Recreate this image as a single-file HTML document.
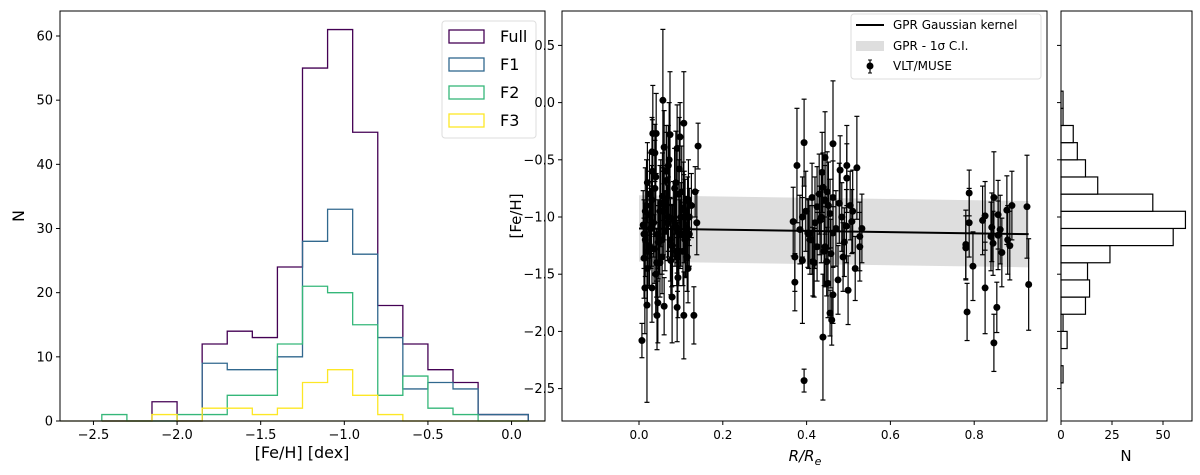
<!DOCTYPE html>
<html><head><meta charset="utf-8"><style>
body{margin:0;background:#fff}
svg{display:block;font-family:"DejaVu Sans","Liberation Sans",sans-serif}
</style></head><body>
<svg id="fig" width="1200" height="475" viewBox="0 0 1200 475" xmlns="http://www.w3.org/2000/svg">
<g id="left"></g>
<g id="mid"></g>
<g id="right"></g>
</svg>
<script>
// ---- Left histogram data ----
const binEdges = [-2.45,-2.3,-2.15,-2.0,-1.85,-1.7,-1.55,-1.4,-1.25,-1.1,-0.95,-0.8,-0.65,-0.5,-0.35,-0.2,-0.05,0.1];
const fullCounts = [0,0,3,0,12,14,13,24,55,61,45,18,12,8,6,1,1];
const f1Counts = [0,0,0,0,9,8,8,10,28,33,26,13,5,6,5,1,1];
const f2Counts = [1,0,0,1,1,4,4,12,21,20,15,4,7,2,1,0,0];
const f3Counts = [0,0,1,0,2,2,1,2,6,8,4,1,0,0,0,0,0];
const leftXTicks = [-2.5,-2.0,-1.5,-1.0,-0.5,0.0];
const leftXTickLabels = ["\u22122.5","\u22122.0","\u22121.5","\u22121.0","\u22120.5","0.0"];
const leftYTicks = [0,10,20,30,40,50,60];
const seriesNames = ["Full","F1","F2","F3"];
// ---- Scatter data ----
const radius = [0.057,0.033,0.041,0.074,0.107,0.098,0.141,0.031,0.038,0.091,0.06,0.134,0.01,0.012,0.014,0.031,0.019,0.007,0.043,0.045,0.06,0.079,0.091,0.107,0.131,0.138,0.093,0.117,
0.02,0.03,0.05,0.07,0.09,0.11,0.125,0.025,0.045,0.065,0.085,0.105,0.12,0.015,0.035,0.055,0.075,0.095,0.115,0.02,0.04,0.06,0.08,0.1,0.12,0.03,0.05,0.07,0.09,0.11,0.025,0.055,0.085,0.115,0.04,0.07,0.1,0.015,0.065,0.095,
0.018,0.028,0.038,0.048,0.058,0.068,0.078,0.088,0.098,0.108,0.118,0.022,0.032,0.042,0.052,0.062,0.072,0.082,0.092,0.102,0.112,0.026,0.046,0.066,0.086,0.106,0.036,0.056,0.076,0.096,0.116,0.012,
0.394,0.377,0.463,0.52,0.444,0.437,0.48,0.496,0.496,0.368,0.39,0.413,0.425,0.444,0.463,0.504,0.508,0.532,0.527,0.372,0.372,0.39,0.415,0.403,0.425,0.444,0.448,0.451,0.463,0.456,0.46,0.439,0.394,0.475,0.499,0.516,0.487,0.463,0.484,0.432,0.384,0.413,0.456,0.449,0.439,0.527,
0.398,0.408,0.42,0.43,0.442,0.452,0.47,0.49,0.51,0.405,0.435,0.458,0.478,0.495,0.418,
0.788,0.847,0.89,0.926,0.93,0.783,0.854,0.847,0.826,0.797,0.78,0.788,0.82,0.826,0.842,0.84,0.845,0.857,0.862,0.866,0.878,0.88,0.885,0.78,0.857];
const feh = [0.02,-0.27,-0.27,-0.28,-0.18,-0.3,-0.38,-0.43,-0.44,-0.4,-0.39,-0.78,-1.07,-1.36,-1.62,-1.62,-1.77,-2.08,-1.86,-1.75,-1.78,-1.7,-1.79,-1.86,-1.86,-1.05,-1.53,-1.45,
-0.7,-0.85,-0.95,-1.0,-1.1,-1.2,-0.9,-1.25,-1.15,-0.6,-0.75,-1.3,-1.0,-0.95,-1.05,-1.35,-1.2,-0.8,-1.1,-1.45,-0.65,-0.9,-1.25,-1.0,-1.15,-1.1,-1.4,-0.55,-1.3,-0.95,-0.8,-1.2,-1.05,-1.35,-1.5,-1.0,-1.15,-1.2,-0.85,-1.3,
-0.9,-1.1,-0.75,-1.2,-0.95,-1.05,-1.25,-0.7,-1.15,-1.0,-0.85,-1.3,-0.6,-1.4,-0.88,-1.12,-0.5,-1.02,-1.35,-0.78,-1.18,-0.98,-1.22,-0.68,-1.08,-0.92,-1.28,-0.82,-1.38,-0.58,-1.0,-1.15,
-0.35,-0.55,-0.36,-0.57,-0.48,-0.61,-0.59,-0.55,-0.66,-1.04,-1.0,-0.83,-0.91,-0.85,-0.83,-0.9,-1.04,-1.1,-1.17,-1.35,-1.57,-1.38,-1.39,-1.14,-1.26,-1.26,-1.39,-1.58,-1.68,-1.84,-1.9,-2.05,-2.43,-1.55,-1.64,-1.45,-1.35,-1.14,-1.0,-1.03,-1.11,-1.2,-0.97,-0.78,-0.74,-1.26,
-0.95,-1.2,-1.05,-0.8,-1.3,-0.9,-1.1,-1.22,-0.95,-1.15,-1.0,-1.32,-0.88,-1.08,-1.4,
-0.79,-0.83,-0.9,-0.91,-1.59,-1.83,-1.79,-2.1,-1.62,-1.43,-1.27,-1.05,-1.03,-0.99,-1.09,-1.17,-1.23,-0.98,-1.11,-1.31,-0.94,-1.2,-1.25,-1.24,-1.16];
const fehErr = [0.62,0.42,0.35,0.55,0.45,0.3,0.2,0.3,0.25,0.38,0.32,0.22,0.3,0.35,0.4,0.3,0.85,0.15,0.3,0.35,0.25,0.4,0.3,0.38,0.25,0.28,0.35,0.3,
0.35,0.3,0.4,0.35,0.3,0.32,0.28,0.35,0.3,0.4,0.35,0.3,0.25,0.38,0.3,0.32,0.36,0.3,0.28,0.32,0.4,0.3,0.35,0.3,0.28,0.33,0.3,0.35,0.3,0.28,0.36,0.3,0.32,0.3,0.35,0.3,0.28,0.32,0.3,0.3,
0.4,0.35,0.42,0.3,0.38,0.33,0.36,0.45,0.3,0.4,0.35,0.32,0.45,0.3,0.38,0.35,0.5,0.33,0.3,0.4,0.35,0.38,0.32,0.42,0.35,0.4,0.3,0.38,0.3,0.45,0.35,0.3,
0.38,0.5,0.55,0.45,0.4,0.35,0.3,0.35,0.3,0.3,0.35,0.3,0.35,0.3,0.32,0.3,0.28,0.3,0.3,0.3,0.25,0.55,0.3,0.3,0.3,0.35,0.3,0.3,0.25,0.2,0.22,0.55,0.1,0.3,0.3,0.28,0.3,0.3,0.3,0.3,0.3,0.3,0.3,0.35,0.3,0.3,
0.35,0.3,0.4,0.35,0.3,0.38,0.33,0.3,0.36,0.3,0.4,0.3,0.35,0.32,0.3,
0.2,0.4,0.3,0.45,0.4,0.25,0.22,0.25,0.4,0.3,0.28,0.3,0.3,0.3,0.3,0.3,0.28,0.3,0.3,0.3,0.3,0.3,0.3,0.3,0.3];
const gprR = [0.0,0.93];
const gprMean = [-1.10,-1.15];
const gprSigma = [0.29,0.29];
const midXTicks = [0.0,0.2,0.4,0.6,0.8];
const midYTicks = [0.5,0.0,-0.5,-1.0,-1.5,-2.0,-2.5];
const midYTickLabels = ["0.5","0.0","\u22120.5","\u22121.0","\u22121.5","\u22122.0","\u22122.5"];
// ---- Marginal histogram ----
const margEdges = [-2.45,-2.3,-2.15,-2.0,-1.85,-1.7,-1.55,-1.4,-1.25,-1.1,-0.95,-0.8,-0.65,-0.5,-0.35,-0.2,-0.05,0.1];
const margCounts = [1,0,3,1,12,14,13,24,55,61,45,18,12,8,6,1,1];
const margXTicks = [0,25,50];

const NS="http://www.w3.org/2000/svg";
function el(parent,tag,attrs,text){const e=document.createElementNS(NS,tag);for(const k in attrs)e.setAttribute(k,attrs[k]);if(text!==undefined)e.textContent=text;parent.appendChild(e);return e;}

// ===== Left =====
const L=document.getElementById('left');
const lx0=60,lx1=545,ly0=11,ly1=421;
const lxs=v=>lx0+(v-(-2.7))/(0.2-(-2.7))*(lx1-lx0);
const lys=v=>ly1-v*(ly1-36)/60;
function stepPath(edges,counts,xs,ys){let d=`M${xs(edges[0])},${ys(0)}`;for(let i=0;i<counts.length;i++){d+=`L${xs(edges[i])},${ys(counts[i])}L${xs(edges[i+1])},${ys(counts[i])}`;}d+=`L${xs(edges[edges.length-1])},${ys(0)}`;return d;}
const colors=["#440154","#31688e","#35b779","#fde725"];
const allCounts=[fullCounts,f1Counts,f2Counts,f3Counts];
allCounts.forEach((c,i)=>{
  const p=el(L,'path',{d:stepPath(binEdges,c,lxs,lys),fill:'none',stroke:colors[i],'stroke-width':1.3});
  
  
});
el(L,'line',{x1:lx0,x2:lx1,y1:ly1,y2:ly1,stroke:'#6b6b1e','stroke-width':1.3});
const lf=el(L,'rect',{x:lx0,y:ly0,width:lx1-lx0,height:ly1-ly0,fill:'none',stroke:'#000','stroke-width':1});

leftXTicks.forEach((v,i)=>{const x=lxs(v);el(L,'line',{x1:x,x2:x,y1:ly1,y2:ly1+4,stroke:'#000'});
  const t=el(L,'text',{x:x,y:ly1+18,'text-anchor':'middle','font-size':13},leftXTickLabels[i]);});
leftYTicks.forEach(v=>{const y=lys(v);el(L,'line',{x1:lx0-4,x2:lx0,y1:y,y2:y,stroke:'#000'});
  const t=el(L,'text',{x:lx0-7,y:y+4.5,'text-anchor':'end','font-size':13},String(v));});
let t=el(L,'text',{x:302,y:458,'text-anchor':'middle','font-size':16},'[Fe/H] [dex]');
t=el(L,'text',{x:0,y:0,'text-anchor':'middle','font-size':16,transform:'translate(24,216) rotate(-90)'},'N');
const lg=el(L,'g',{});
el(lg,'rect',{x:442,y:21,width:94,height:117,rx:3,fill:'#fff',stroke:'#ddd'});
seriesNames.forEach((n,i)=>{const y=36+i*28;el(lg,'rect',{x:449,y:y-6,width:35,height:13,fill:'none',stroke:colors[i],'stroke-width':1.3});
  const tt=el(lg,'text',{x:500,y:y+6,'font-size':16},n);});

// ===== Middle =====
const M=document.getElementById('mid');
const mx0=562,mx1=1047,my0=11,my1=421;
const mxs=v=>639+v*419;
const mys=v=>217-(v+1.0)*114.4;
const band=el(M,'path',{d:`M${mxs(gprR[0])},${mys(gprMean[0]+gprSigma[0])}L${mxs(gprR[1])},${mys(gprMean[1]+gprSigma[1])}L${mxs(gprR[1])},${mys(gprMean[1]-gprSigma[1])}L${mxs(gprR[0])},${mys(gprMean[0]-gprSigma[0])}Z`,fill:'#dedede'});

const gl=el(M,'line',{x1:mxs(gprR[0]),y1:mys(gprMean[0]),x2:mxs(gprR[1]),y2:mys(gprMean[1]),stroke:'#000','stroke-width':2});

const pts=el(M,'g',{});
radius.forEach((r,i)=>{const x=mxs(r),y=mys(feh[i]),e=fehErr[i]*114.4;
  const g=el(pts,'g',{});
  
  
  el(g,'line',{x1:x,x2:x,y1:y-e,y2:y+e,stroke:'#000','stroke-width':1.2});
  el(g,'line',{x1:x-2.5,x2:x+2.5,y1:y-e,y2:y-e,stroke:'#000','stroke-width':1.2});
  el(g,'line',{x1:x-2.5,x2:x+2.5,y1:y+e,y2:y+e,stroke:'#000','stroke-width':1.2});
  el(g,'circle',{cx:x,cy:y,r:3.5,fill:'#000'});});
el(M,'rect',{x:mx0,y:my0,width:mx1-mx0,height:my1-my0,fill:'none',stroke:'#000'});
midXTicks.forEach(v=>{const x=mxs(v);el(M,'line',{x1:x,x2:x,y1:my1,y2:my1+4,stroke:'#000'});
  const tt=el(M,'text',{x:x,y:my1+18,'text-anchor':'middle','font-size':12},v.toFixed(1));});
midYTicks.forEach((v,i)=>{const y=mys(v);el(M,'line',{x1:mx0-4,x2:mx0,y1:y,y2:y,stroke:'#000'});
  const tt=el(M,'text',{x:mx0-7,y:y+4.5,'text-anchor':'end','font-size':13},midYTickLabels[i]);});
t=el(M,'text',{x:805,y:461,'text-anchor':'middle','font-size':15,'font-style':'italic'});t.innerHTML='R/R<tspan font-size="11" dy="4">e</tspan>';
t=el(M,'text',{x:0,y:0,'text-anchor':'middle','font-size':15,transform:'translate(521,216) rotate(-90)'},'[Fe/H]');
const ml=el(M,'g',{});
el(ml,'rect',{x:851,y:14,width:190,height:65,rx:3,fill:'#fff',stroke:'#ddd'});
el(ml,'line',{x1:856,x2:884,y1:25,y2:25,stroke:'#000','stroke-width':2});
el(ml,'rect',{x:856,y:41,width:28,height:10,fill:'#dedede'});
el(ml,'line',{x1:870,x2:870,y1:60,y2:73,stroke:'#000','stroke-width':1.2});
el(ml,'line',{x1:868,x2:872,y1:60,y2:60,stroke:'#000'});el(ml,'line',{x1:868,x2:872,y1:73,y2:73,stroke:'#000'});
el(ml,'circle',{cx:870,cy:66,r:3.5,fill:'#000'});
[['GPR Gaussian kernel',29],['GPR - 1\u03c3 C.I.',50],['VLT/MUSE',70]].forEach(a=>{const tt=el(ml,'text',{x:893,y:a[1],'font-size':12},a[0]);});

// ===== Right =====
const R=document.getElementById('right');
const rx0=1061,rx1=1192;
const rxs=v=>rx0+v*51/25;
margCounts.forEach((c,i)=>{if(c<=0)return;const yA=mys(margEdges[i+1]),yB=mys(margEdges[i]);
  const b=el(R,'rect',{x:rxs(0),y:yA,width:rxs(c)-rxs(0),height:yB-yA,fill:'#fff',stroke:'#000','stroke-width':1.2});
  });
el(R,'rect',{x:rx0,y:my0,width:rx1-rx0,height:my1-my0,fill:'none',stroke:'#000'});
midYTicks.forEach(v=>{const y=mys(v);el(R,'line',{x1:rx0-4,x2:rx0,y1:y,y2:y,stroke:'#000'});});
margXTicks.forEach(v=>{const x=rxs(v);el(R,'line',{x1:x,x2:x,y1:my1,y2:my1+4,stroke:'#000'});
  const tt=el(R,'text',{x:x,y:my1+18,'text-anchor':'middle','font-size':12},String(v));});
t=el(R,'text',{x:1126,y:461,'text-anchor':'middle','font-size':15},'N');
</script>
</body></html>
